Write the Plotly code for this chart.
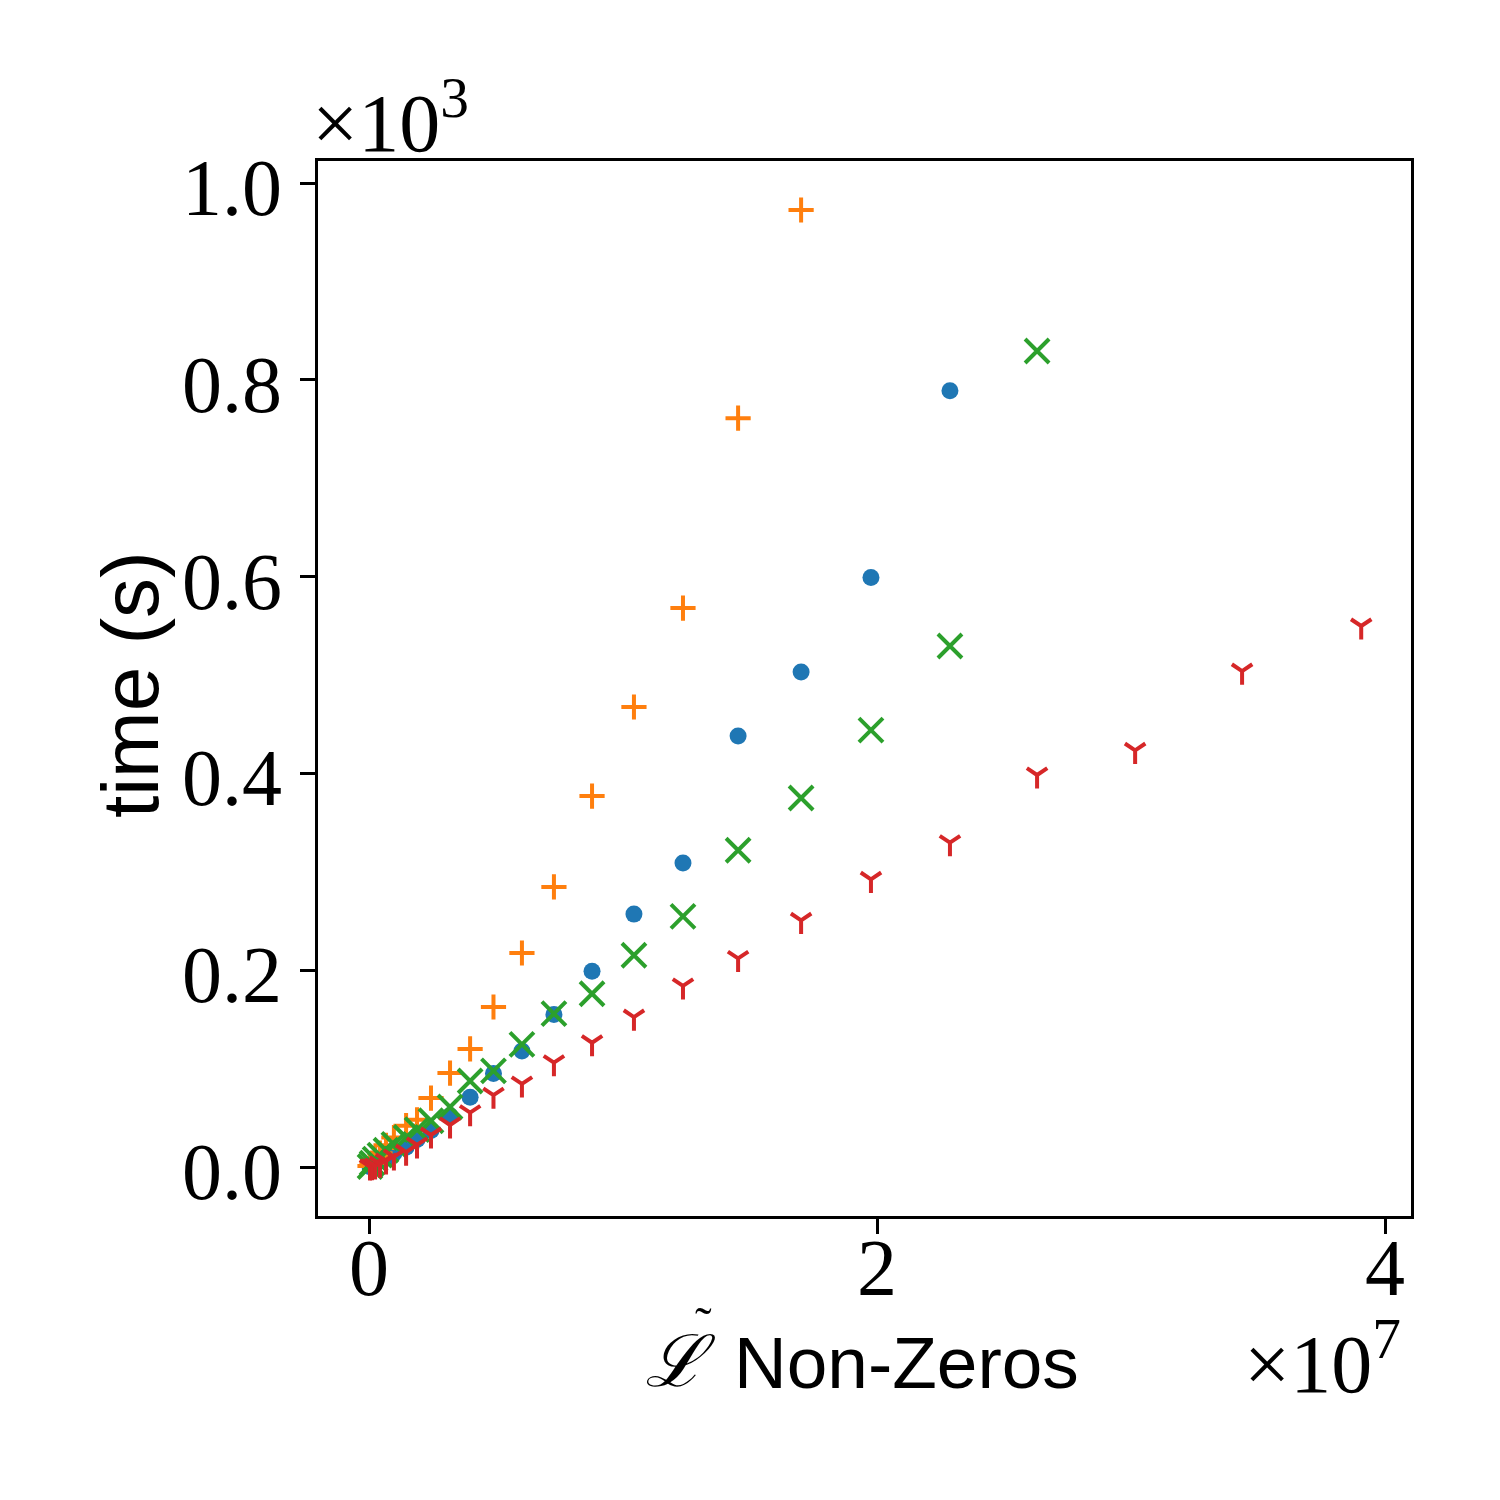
import plotly.graph_objects as go

# Non-zeros of L~ (shared x values)
nnz = [4e4, 1.2e5, 2.4e5, 4.3e5, 6.7e5, 9.8e5, 1.46e6, 1.89e6, 2.44e6, 3.19e6,
       3.98e6, 4.90e6, 6.02e6, 7.28e6, 8.78e6, 1.043e7, 1.236e7, 1.453e7, 1.701e7,
       1.976e7, 2.287e7, 2.630e7, 3.016e7, 3.437e7, 3.906e7]

# times in seconds
time_blue = [0.3, 1, 3, 6, 9, 14, 20, 28, 37, 52, 71, 95, 118, 155, 199, 257, 309,
             438, 503, 599, 789]
time_orange = [1, 4, 8, 14, 22, 30, 42, 48, 70, 95.5, 120, 162.6, 217.5, 284.6, 377,
               467.5, 568, 761, 972.6]
time_green = [0.5, 4, 8, 12, 17, 23, 30, 38, 47, 61, 87.4, 97.6, 124.7, 155.8, 176.1,
              215.2, 254.8, 321.9, 375, 444, 529.5, 829.3]
time_red = [0.1, 0.3, 1.0, 3.0, 6.1, 10.2, 15.2, 22.4, 32.5, 42.7, 55.2, 73, 84.4,
            106, 126.3, 152.4, 184, 212, 250.7, 292.4, 329.6, 398.4, 423.5, 504, 549.8]

x_ticks = [0, 2e7, 4e7]
x_ticktext = ["0", "2", "4"]
y_ticks = [0, 200, 400, 600, 800, 1000]
y_ticktext = ["0.0", "0.2", "0.4", "0.6", "0.8", "1.0"]

C_BLUE, C_ORANGE, C_GREEN, C_RED = "#1f77b4", "#ff7f0e", "#2ca02c", "#d62728"

fig = go.Figure()
fig.add_trace(go.Scatter(x=nnz[:len(time_blue)], y=time_blue, mode="markers",
                         marker=dict(symbol="circle", size=17, color=C_BLUE,
                                     line=dict(width=0))))
fig.add_trace(go.Scatter(x=nnz[:len(time_orange)], y=time_orange, mode="markers",
                         marker=dict(symbol="cross-thin", size=18, color=C_ORANGE,
                                     line=dict(width=4, color=C_ORANGE))))
fig.add_trace(go.Scatter(x=nnz[:len(time_green)], y=time_green, mode="markers",
                         marker=dict(symbol="x-thin", size=24, color=C_GREEN,
                                     line=dict(width=4, color=C_GREEN))))
fig.add_trace(go.Scatter(x=nnz[:len(time_red)], y=time_red, mode="markers",
                         marker=dict(symbol="y-down", size=17, color=C_RED,
                                     line=dict(width=4, color=C_RED))))

serif = "Liberation Serif"
sans = "Liberation Sans"

axis_common = dict(showgrid=False, zeroline=False, showline=True, mirror=True,
                   linecolor="black", linewidth=3, ticks="outside", ticklen=15,
                   tickwidth=3, tickcolor="black",
                   tickfont=dict(family=serif, size=80, color="black"))

fig.update_layout(
    width=1500, height=1500,
    margin=dict(l=310, r=97, t=153, b=292),
    paper_bgcolor="white", plot_bgcolor="white",
    showlegend=False,
    xaxis=dict(range=[-0.2008e7, 4.102e7], tickvals=x_ticks, ticktext=x_ticktext,
               ticklabelstandoff=-35, **axis_common),
    yaxis=dict(range=[-49.8, 1022.4], tickvals=y_ticks, ticktext=y_ticktext,
               ticklabelshift=4, ticklabelstandoff=2, **axis_common),
)

fig.add_annotation(text="time (s)", xref="paper", yref="paper",
                   x=-0.1711, y=0.5043, xanchor="center", yanchor="middle",
                   textangle=-90, showarrow=False,
                   font=dict(family=sans, size=80, color="black"))
fig.add_annotation(text="Non-Zeros", xref="paper", yref="paper",
                   x=0.3788, y=-0.1393, xanchor="left", yanchor="middle",
                   showarrow=False,
                   font=dict(family=sans, size=73, color="black"))
fig.add_annotation(text="<i>ℒ</i>", xref="paper", yref="paper",
                   x=0.3321, y=-0.1374, xanchor="center", yanchor="middle",
                   showarrow=False,
                   font=dict(family="DejaVu Serif", size=72, color="black"))
fig.add_annotation(text="˜", xref="paper", yref="paper",
                   x=0.3531, y=-0.1030, xanchor="center", yanchor="middle",
                   showarrow=False,
                   font=dict(family=serif, size=50, color="black"))
fig.add_annotation(text="×10<sup>7</sup>", xref="paper", yref="paper",
                   x=0.993, y=-0.135, xanchor="right", yanchor="middle",
                   showarrow=False,
                   font=dict(family=serif, size=82, color="black"))
fig.add_annotation(text="×10<sup>3</sup>", xref="paper", yref="paper",
                   x=-0.0073, y=0.9905, xanchor="left", yanchor="bottom",
                   showarrow=False,
                   font=dict(family=serif, size=82, color="black"))

fig.write_html("out.html")
